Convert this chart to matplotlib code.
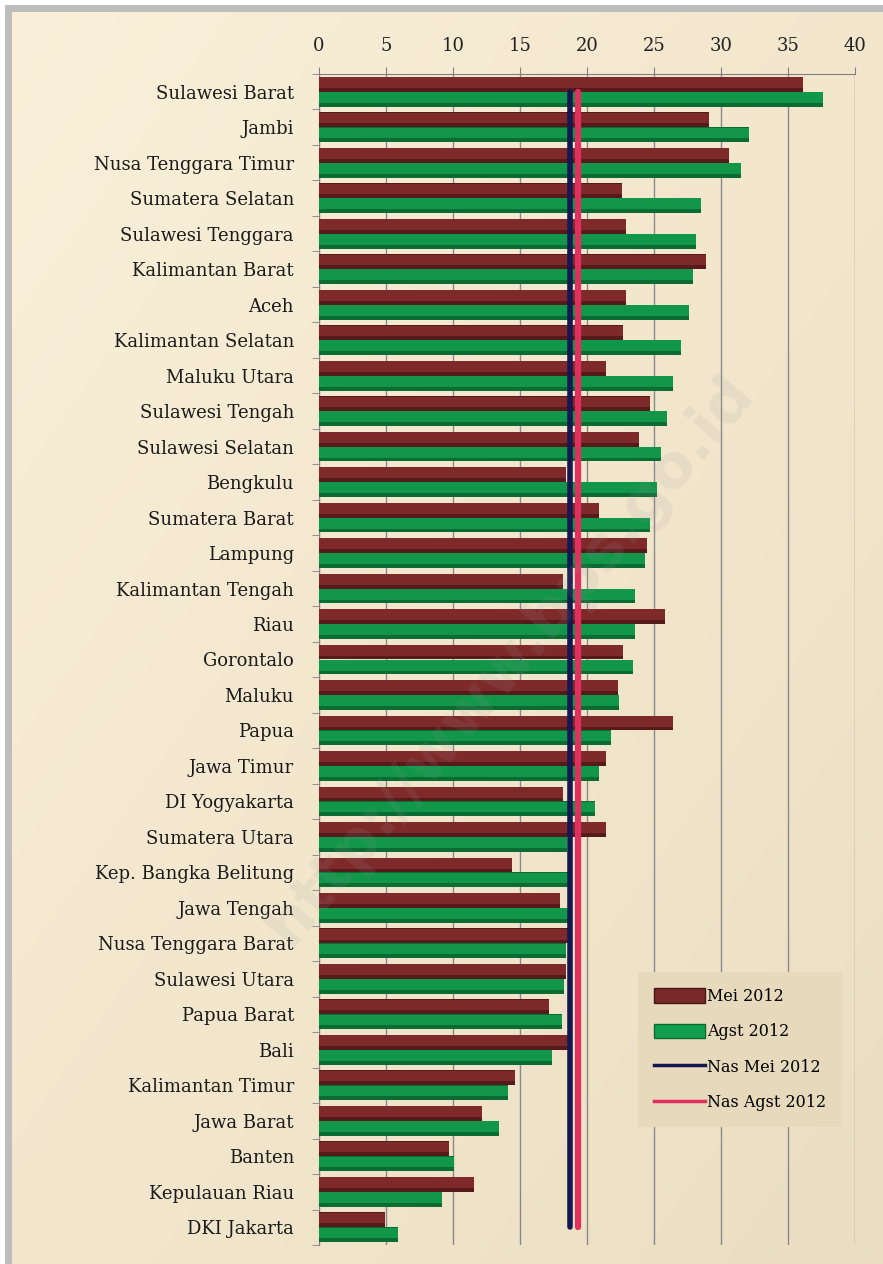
import numpy as np
import matplotlib.pyplot as plt
from matplotlib.patches import Patch
from matplotlib.lines import Line2D

provinsi = ['Sulawesi Barat', 'Jambi', 'Nusa Tenggara Timur', 'Sumatera Selatan',
            'Sulawesi Tenggara', 'Kalimantan Barat', 'Aceh', 'Kalimantan Selatan',
            'Maluku Utara', 'Sulawesi Tengah', 'Sulawesi Selatan', 'Bengkulu',
            'Sumatera Barat', 'Lampung', 'Kalimantan Tengah', 'Riau', 'Gorontalo',
            'Maluku', 'Papua', 'Jawa Timur', 'DI Yogyakarta', 'Sumatera Utara',
            'Kep. Bangka Belitung', 'Jawa Tengah', 'Nusa Tenggara Barat',
            'Sulawesi Utara', 'Papua Barat', 'Bali', 'Kalimantan Timur', 'Jawa Barat',
            'Banten', 'Kepulauan Riau', 'DKI Jakarta']
mei_2012 = [36.1, 29.1, 30.6, 22.6, 22.9, 28.9, 22.9, 22.7, 21.4, 24.7, 23.9, 18.4,
            20.9, 24.5, 18.2, 25.8, 22.7, 22.3, 26.4, 21.4, 18.2, 21.4, 14.4, 18.0,
            18.7, 18.4, 17.2, 18.9, 14.6, 12.2, 9.7, 11.6, 4.9]
agst_2012 = [37.6, 32.1, 31.5, 28.5, 28.1, 27.9, 27.6, 27.0, 26.4, 26.0, 25.5, 25.2,
             24.7, 24.3, 23.6, 23.6, 23.4, 22.4, 21.8, 20.9, 20.6, 18.5, 18.6, 18.6,
             18.4, 18.3, 18.1, 17.4, 14.1, 13.4, 10.1, 9.2, 5.9]
nas_mei = 18.7
nas_agst = 19.35
xticks = [0, 5, 10, 15, 20, 25, 30, 35, 40]

W, H = 883, 1264
fig = plt.figure(figsize=(W / 100, H / 100), dpi=100)
fig.patch.set_facecolor('white')

# latar belakang bergradasi + bayangan bingkai kiri/atas
bg = fig.add_axes([0, 0, 1, 1], zorder=-2)
grad = np.linspace(0, 1, 256).reshape(1, -1)
grad = (grad + grad.T) / 2
c1 = np.array([0.98, 0.94, 0.85])
c2 = np.array([0.92, 0.87, 0.76])
img = c1[None, None, :] * (1 - grad[..., None]) + c2[None, None, :] * grad[..., None]
bg.imshow(img, extent=[12 / W, 1, 0, 1 - 12 / H], aspect='auto', origin='upper')
bg.plot([8 / W, 8 / W, 1], [0, 1 - 8 / H, 1 - 8 / H], color='#bdbdbd', lw=5,
        solid_joinstyle='miter')
bg.set_xlim(0, 1)
bg.set_ylim(0, 1)
bg.axis('off')

ax = fig.add_axes([319 / W, 1 - 1245 / H, (855 - 319) / W, (1245 - 74) / H])
ax.patch.set_alpha(0)

y = np.arange(len(provinsi))
h = 0.42
# Mei 2012 (merah marun) di atas, Agst 2012 (hijau) di bawah
ax.barh(y - h / 2, mei_2012, height=h, color='#561a1a', zorder=3)
ax.barh(y - h / 2 - h * 0.12, mei_2012, height=h * 0.72, color='#7e2a2a', zorder=3)
ax.barh(y + h / 2, agst_2012, height=h, color='#0b6c33', zorder=3)
ax.barh(y + h / 2 - h * 0.12, agst_2012, height=h * 0.72, color='#12964a', zorder=3)

ax.plot([nas_mei] * len(y), y, color='#141850', lw=4, solid_capstyle='round', zorder=4)
ax.plot([nas_agst] * len(y), y, color='#e0305e', lw=4.5, solid_capstyle='round', zorder=4)

ax.set_xlim(0, 40)
ax.set_ylim(len(y) - 0.5, -0.5)
ax.xaxis.tick_top()
ax.set_xticks(xticks)
ax.set_xticklabels([str(t) for t in xticks], family='DejaVu Serif', fontsize=13,
                   color='#222222')
ax.tick_params(axis='x', length=5, color='#808080', pad=9)
ax.set_yticks(y)
ax.set_yticklabels(provinsi, family='DejaVu Serif', fontsize=13, color='#1a1a1a')
ax.tick_params(axis='y', length=0, pad=18)
ax.set_yticks(np.arange(-0.5, len(y), 1), minor=True)
ax.tick_params(axis='y', which='minor', length=5, color='#808080')
ax.grid(axis='x', color='#8a8a8a', lw=1, zorder=0)
for s in ['right', 'bottom']:
    ax.spines[s].set_visible(False)
ax.spines['top'].set_color('#808080')
ax.spines['left'].set_color('#808080')

handles = [Patch(facecolor='#7a2828', edgecolor='#4a1515'),
           Patch(facecolor='#12a050', edgecolor='#0a6a30'),
           Line2D([0], [0], color='#141850', lw=2.5),
           Line2D([0], [0], color='#e0305e', lw=2.5)]
leg = ax.legend(handles, ['Mei 2012', 'Agst 2012', 'Nas Mei 2012', 'Nas Agst 2012'],
                loc='lower right', bbox_to_anchor=((842 - 319) / 536, (1245 - 1127) / 1171),
                prop={'family': 'DejaVu Serif', 'size': 11.5}, frameon=True,
                facecolor='#e6d9bc', edgecolor='none', framealpha=1, fancybox=False,
                handlelength=3.2, handleheight=1.0, handletextpad=0.1,
                labelspacing=1.15, borderpad=1.0, borderaxespad=0)
leg.set_zorder(6)

fig.text(510 / W, 1 - 660 / H, 'http://www.bps.go.id', rotation=50, fontsize=44,
         fontweight='bold', color='#9a9a9a', alpha=0.12, ha='center', va='center',
         zorder=10)

fig.savefig('out.png', dpi=100)
